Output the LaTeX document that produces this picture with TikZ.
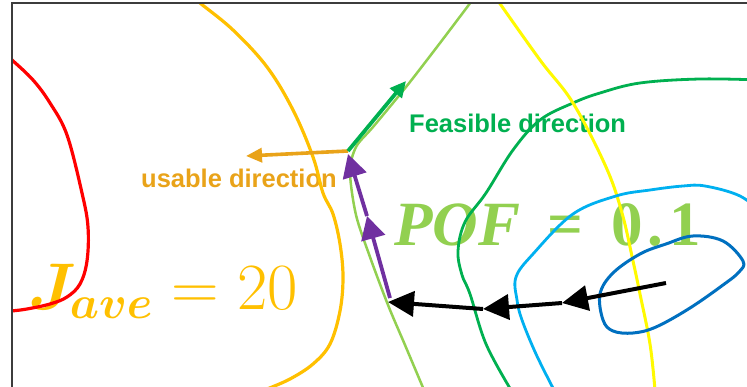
\RequirePackage{fix-cm}
\documentclass[tikz,border=0pt]{standalone}
\usepackage{amsmath}
\usepackage{bm}
\usepackage{fontspec}
\newfontfamily\labelfont{Liberation Sans}
\newfontfamily\pseriffont{Liberation Serif}
\usetikzlibrary{arrows.meta}
\definecolor{cred}{RGB}{255,0,0}
\definecolor{corange}{RGB}{255,192,0}
\definecolor{usable}{RGB}{233,163,25}
\definecolor{lgreen}{RGB}{146,208,80}
\definecolor{dgreen}{RGB}{0,176,80}
\definecolor{cyellow}{RGB}{255,250,0}
\definecolor{lblue}{RGB}{0,176,240}
\definecolor{dblue}{RGB}{0,112,192}
\definecolor{cpurple}{RGB}{112,48,160}
\definecolor{framecol}{RGB}{60,60,60}
\newcommand\jfont{\fontsize{66}{72}\selectfont}
\newcommand\pfont{\pseriffont\bfseries\fontsize{63}{68}\selectfont}
\newcommand\lfont{\labelfont\bfseries\fontsize{25.5}{30}\selectfont}
\tikzset{
  contour/.style={line width=3.2pt, line cap=round, line join=round},
  lab/.style={font=\lfont, inner sep=0pt, anchor=base west},
  bigmath/.style={inner sep=0pt, anchor=base west},
  blackarrow/.style={draw=black, line width=4pt, -{Triangle[length=26pt,width=25pt]}},
  purplearrow/.style={draw=cpurple, line width=3.8pt, -{Triangle[length=23pt,width=24pt]}},
  usablearrow/.style={draw=usable, line width=3.6pt, -{Triangle[length=16pt,width=14pt]}},
  feasarrow/.style={draw=dgreen, line width=3.8pt, -{Triangle[length=16pt,width=15pt]}},
}
\begin{document}
\begin{tikzpicture}[x=1pt,y=-1pt]
\useasboundingbox (0,0) rectangle (747,387);
\fill[white] (0,0) rectangle (747,387);

% texts (drawn below the curves)
\node[bigmath, text=corange, font=\jfont] (jave) at (28,309) {$\bm{J}_{\bm{ave}} = 20$};
\node[bigmath, text=lgreen, font=\pfont] (pof) at (394,246) {\itshape POF\hspace{27pt}\upshape =\hspace{28pt}0\hspace{5pt}.\hspace{6pt}1};
\node[lab, text=dgreen] (feas) at (409,133) {Feasible direction};
\node[lab, text=usable] (usab) at (141,188) {usable direction};

\begin{scope}
\clip (12,3) rectangle (747,387);
% red contour
\draw[contour, cred] plot[smooth, tension=0.6] coordinates {(8,57) (12,60) (33,80) (50,103) (67,135) (82,193) (88,227) (87,261) (80,284) (67,297) (50,304) (27,309) (12,311) (6,312)};
% orange contour
\draw[contour, corange] plot[smooth, tension=0.6] coordinates {(195,-2) (200,3) (233,30) (267,67) (293,110) (313,157) (323,193) (333,214) (340,244) (343,277) (340,311) (330,344) (313,364) (290,379) (267,389)};
% light green constraint
\draw[contour, lgreen, line width=2.5pt] plot[smooth, tension=0.5] coordinates {(474,-2) (440,43) (406,87) (373,127) (356,147) (350,172) (356,215) (370,257) (388,305) (405,345) (424,390)};
% dark green contour
\draw[contour, dgreen, line width=2.8pt] plot[smooth, tension=0.6] coordinates {(760,80) (700,79) (640,83) (600,93) (573,103) (540,120) (513,150) (486,193) (465,222) (458,251) (462,275) (470,294) (486,344) (511,390)};
% yellow contour
\draw[contour, cyellow, line width=3pt] plot[smooth, tension=0.6] coordinates {(496,-2) (540,60) (573,103) (606,167) (622,213) (633,261) (640,294) (650,344) (655,390)};
% light blue contour
\draw[contour, lblue, line width=2.8pt] plot[smooth, tension=0.6] coordinates {(765,215) (740,196) (705,186) (683,186) (650,190) (616,196) (573,214) (533,254) (516,277) (517,300) (522,320) (536,354) (554,390)};
% dark blue contour
\draw[contour, dblue, line width=3pt] plot[smooth cycle, tension=0.6] coordinates {(743,261) (723,241) (693,236) (666,244) (640,254) (613,273) (600,294) (603,320) (613,331) (633,333) (656,327) (690,308) (723,285) (739,272)};
\end{scope}

% arrows
\coordinate (s) at (348,151);
\coordinate (uend) at (246,156);
\coordinate (fend) at (406,81);
\coordinate (b0) at (666,283);
\coordinate (b1) at (562,303);
\coordinate (b2) at (483,309);
\coordinate (b3) at (388,302);
\coordinate (p0) at (390,298);
\coordinate (p1) at (367,216);
\coordinate (p2) at (348,154);

\draw[usablearrow] (s) -- (uend);
\draw[feasarrow] (s) -- (fend);
\draw[blackarrow] (b0) -- (b1);
\draw[blackarrow] (b1) -- (b2);
\draw[blackarrow] (b2) -- (b3);
\draw[purplearrow] (p0) -- (p1);
\draw[purplearrow] (p1) -- (p2);

% frame
\draw[framecol, line width=1.3pt] (12,387) -- (12,3) -- (747,3);
\end{tikzpicture}
\end{document}
